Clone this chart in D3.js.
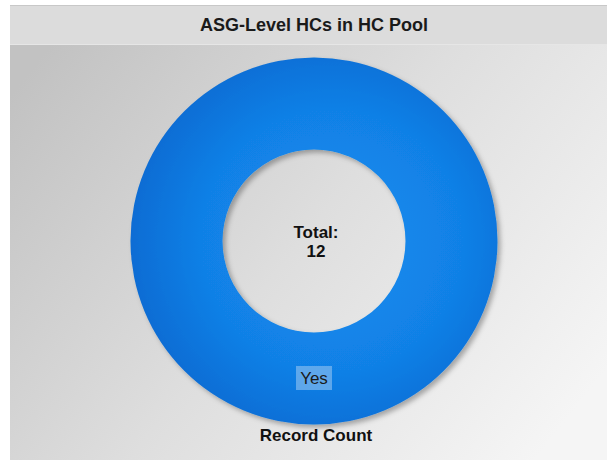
<!DOCTYPE html>
<html><head><meta charset="utf-8">
<script src="https://cdn.jsdelivr.net/npm/d3@7"></script>
<style>html,body{margin:0;padding:0;background:#fff;}svg{display:block;font-family:"Liberation Sans",Arial,sans-serif;}</style>
</head><body>
<script>
const title = "ASG-Level HCs in HC Pool";
const categories = ["Yes"];
const values = [12];
const seriesName = "Record Count";
const totalLabel = "Total:";

const W = 607, H = 460;
const svg = d3.select("body").append("svg").attr("width", W).attr("height", H);
const defs = svg.append("defs");

const bg = defs.append("linearGradient").attr("id","bg").attr("x1","0").attr("y1","0.2").attr("x2","1").attr("y2","0.8");
bg.append("stop").attr("offset","0").attr("stop-color","#c2c2c2");
bg.append("stop").attr("offset","0.5").attr("stop-color","#dedede");
bg.append("stop").attr("offset","1").attr("stop-color","#f5f5f5");

const rg = defs.append("radialGradient").attr("id","ring").attr("cx","0.55").attr("cy","0.5").attr("r","0.6");
rg.append("stop").attr("offset","0").attr("stop-color","#168ff0");
rg.append("stop").attr("offset","0.6").attr("stop-color","#1180e6");
rg.append("stop").attr("offset","1").attr("stop-color","#0967cf");

const sh = defs.append("filter").attr("id","shadow").attr("x","-10%").attr("y","-10%").attr("width","130%").attr("height","130%");
sh.append("feDropShadow").attr("dx",3).attr("dy",3).attr("stdDeviation",2.5).attr("flood-color","#000").attr("flood-opacity",0.3);

// frame
svg.append("rect").attr("x",10).attr("y",5).attr("width",W-10).attr("height",H-5).attr("fill","url(#bg)");
svg.append("rect").attr("x",10).attr("y",5).attr("width",W-10).attr("height",40).attr("fill","#dcdcdc");
svg.append("line").attr("x1",10).attr("x2",W).attr("y1",5.5).attr("y2",5.5).attr("stroke","#c8c8c8");
svg.append("line").attr("x1",10).attr("x2",W).attr("y1",44.5).attr("y2",44.5).attr("stroke","#e6e6e6");
svg.append("text").attr("x",314).attr("y",31).attr("text-anchor","middle")
  .attr("font-size",18).attr("font-weight","bold").attr("fill","#1a1a1a").text(title);

const cx = 314, cy = 241, R = 183.5, r = 91.5;
const g = svg.append("g").attr("transform",`translate(${cx},${cy})`);
const pie = d3.pie().sort(null).value(d => d.v);
const arcs = pie(categories.map((c,i)=>({c, v: values[i]})));
const arc = d3.arc().innerRadius(r).outerRadius(R);

g.selectAll("path.slice").data(arcs).join("path").attr("class","slice")
  .attr("d", arc).attr("fill","url(#ring)").attr("filter","url(#shadow)");

// label
const labelY = 137;
arcs.forEach(a => {
  const lg = g.append("g").attr("transform",`translate(0,${labelY})`);
  lg.append("rect").attr("x",-18).attr("y",-12).attr("width",36).attr("height",24)
    .attr("fill","#7ab6ee").attr("fill-opacity",0.75);
  lg.append("text").attr("x",0).attr("y",6).attr("text-anchor","middle")
    .attr("font-size",17).attr("fill","#1a1a1a").text(a.data.c);
});

const total = d3.sum(values);
g.append("text").attr("x",2).attr("y",-3).attr("text-anchor","middle")
  .attr("font-size",17).attr("font-weight","bold").attr("fill","#111").text(totalLabel);
g.append("text").attr("x",2).attr("y",16).attr("text-anchor","middle")
  .attr("font-size",17).attr("font-weight","bold").attr("fill","#111").text(total);

svg.append("text").attr("x",316).attr("y",441).attr("text-anchor","middle")
  .attr("font-size",17).attr("font-weight","bold").attr("fill","#111").text(seriesName);
</script>
</body></html>
